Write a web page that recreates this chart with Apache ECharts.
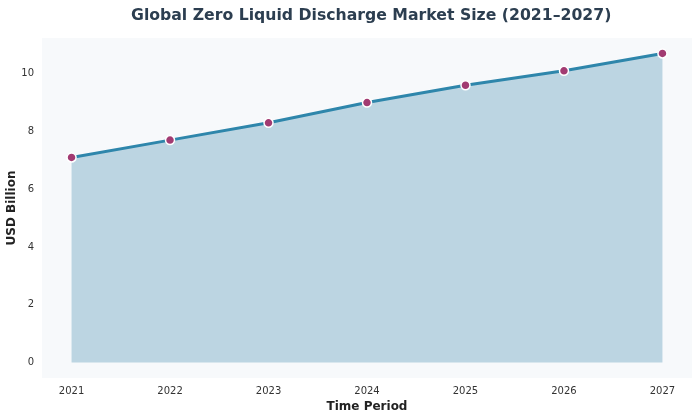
<!DOCTYPE html>
<html>
<head>
<meta charset="utf-8">
<script src="https://cdn.jsdelivr.net/npm/echarts@6/dist/echarts.min.js"></script>
<style>html,body{margin:0;padding:0;background:#fff}#c{width:700px;height:418px}</style>
</head>
<body>
<div id="c"></div>
<script>
const years = [2021, 2022, 2023, 2024, 2025, 2026, 2027];
const marketSize = [7.1, 7.7, 8.3, 9.0, 9.6, 10.1, 10.7];
const yTicks = [0, 2, 4, 6, 8, 10];

const chart = echarts.init(document.getElementById('c'));
const font = 'DejaVu Sans';
chart.setOption({
  backgroundColor: '#ffffff',
  animation: false,
  title: {
    text: 'Global Zero Liquid Discharge Market Size (2021\u20132027)',
    left: 126, top: 3,
    textStyle: { fontFamily: font, fontSize: 15.7, fontWeight: 'bold', color: '#2c3e50' }
  },
  grid: { left: 42, right: 8, top: 38, bottom: 40, show: true, backgroundColor: '#f7f9fb', borderWidth: 0, containLabel: false, outerBoundsMode: 'none' },
  xAxis: {
    type: 'value',
    min: 2020.7, max: 2027.3,
    name: 'Time Period', nameLocation: 'middle', nameGap: 23, nameMoveOverlap: false,
    nameTextStyle: { fontFamily: font, fontSize: 12, fontWeight: 'bold', color: '#222' },
    axisLine: { show: false }, axisTick: { show: false }, splitLine: { show: false },
    axisLabel: { customValues: years, fontFamily: font, fontSize: 10, color: '#333', margin: 8, formatter: v => String(v) }
  },
  yAxis: {
    type: 'value',
    min: -0.535, max: 11.235,
    name: 'USD Billion', nameLocation: 'middle', nameGap: 24, nameMoveOverlap: false,
    nameTextStyle: { fontFamily: font, fontSize: 12, fontWeight: 'bold', color: '#222' },
    axisLine: { show: false }, axisTick: { show: false }, splitLine: { show: false },
    axisLabel: { customValues: yTicks, fontFamily: font, fontSize: 10, color: '#333', margin: 8, formatter: v => String(v) }
  },
  series: [{
    type: 'line',
    data: years.map((y, i) => [y, marketSize[i]]),
    lineStyle: { color: '#2e86ab', width: 3 },
    itemStyle: { color: '#a23b72', borderColor: '#ffffff', borderWidth: 1.5 },
    symbol: 'circle', symbolSize: 9,
    areaStyle: { color: '#bcd5e2', opacity: 1, origin: 0 },
    z: 3
  }]
});
</script>
</body>
</html>
